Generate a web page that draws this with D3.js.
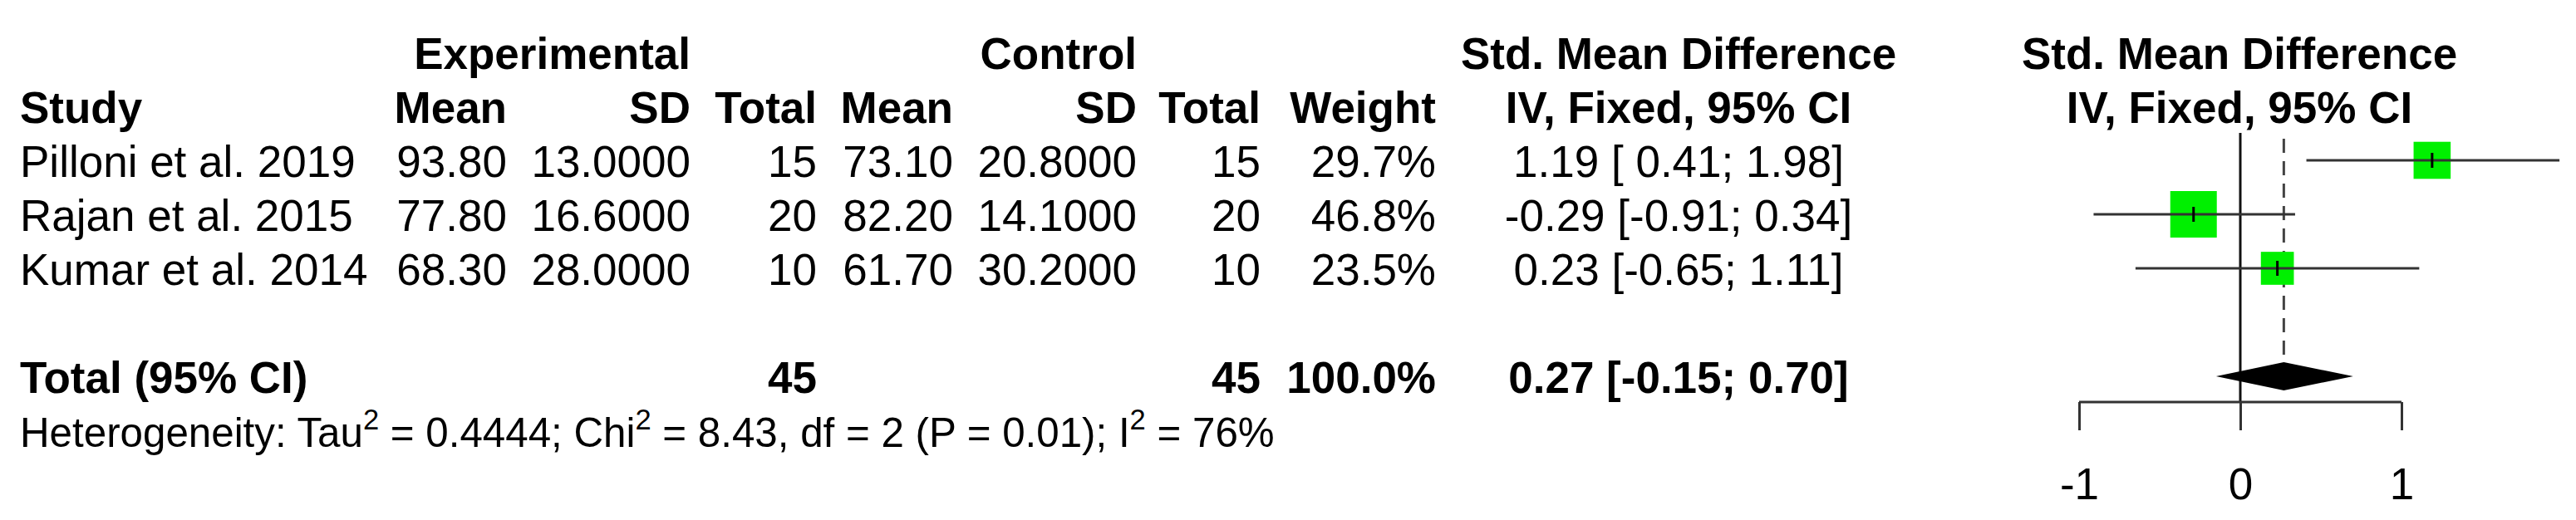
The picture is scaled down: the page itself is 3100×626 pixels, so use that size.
<!DOCTYPE html>
<html>
<head>
<meta charset="utf-8">
<script src="https://cdn.jsdelivr.net/npm/d3@7"></script>
<style>
  html, body { margin: 0; padding: 0; background: #fff; }
  svg { display: block; }
  text { font-family: "Liberation Sans", Arial, Helvetica, sans-serif; fill: #000; white-space: pre; }
</style>
</head>
<body>
<svg id="chart" width="3100" height="626"></svg>
<script>
// ---- data ----
const studies   = ["Pilloni et al. 2019", "Rajan et al. 2015", "Kumar et al. 2014"];
const expMean   = [93.80, 77.80, 68.30];
const expSD     = [13.0000, 16.6000, 28.0000];
const expN      = [15, 20, 10];
const ctrlMean  = [73.10, 82.20, 61.70];
const ctrlSD    = [20.8000, 14.1000, 30.2000];
const ctrlN     = [15, 20, 10];
const weights   = [29.7, 46.8, 23.5];
const smd       = [1.19, -0.29, 0.23];
const ciLow     = [0.41, -0.91, -0.65];
const ciHigh    = [1.98, 0.34, 1.11];
const totalLabel = "Total (95% CI)";
const totalExpN  = 45;
const totalCtrlN = 45;
const totalWeight = 100.0;
const totalSMD   = 0.27;
const totalLow   = -0.15;
const totalHigh  = 0.70;
const tickValues = [-1, 0, 1];
const hetParts = [
  ["Heterogeneity: Tau", false], ["2", true], [" = 0.4444; Chi", false], ["2", true],
  [" = 8.43, df = 2 (P = 0.01); I", false], ["2", true], [" = 76%", false]
];

// ---- layout ----
const svg = d3.select("#chart");
const FS = 53, FS_HET = 49.3;
const row = d3.scaleLinear().domain([0, 1]).range([213, 278]); // baseline of row index
const x = d3.scaleLinear().domain([-1, 1]).range([2502, 2890]);
const boxSize = d3.scaleSqrt().domain([0, d3.max(weights)]).range([0, 56]);

const cols = {
  study: 24, eMean: 610, eSD: 831, eN: 983, cMean: 1147, cSD: 1368, cN: 1517, w: 1728, ci: 2020, plot: 2695
};

function txt(xp, yp, s, anchor, bold, size) {
  return svg.append("text")
    .attr("x", xp).attr("y", yp)
    .attr("text-anchor", anchor || "start")
    .attr("font-weight", bold ? "bold" : "normal")
    .attr("font-size", size || FS)
    .text(s);
}
const f2 = v => v.toFixed(2);

// headers
txt(cols.eSD, row(-2), "Experimental", "end", true);
txt(cols.cSD, row(-2), "Control", "end", true);
txt(cols.ci, row(-2), "Std. Mean Difference", "middle", true);
txt(cols.plot, row(-2), "Std. Mean Difference", "middle", true);
txt(cols.study, row(-1), "Study", "start", true);
txt(cols.eMean, row(-1), "Mean", "end", true);
txt(cols.eSD, row(-1), "SD", "end", true);
txt(cols.eN, row(-1), "Total", "end", true);
txt(cols.cMean, row(-1), "Mean", "end", true);
txt(cols.cSD, row(-1), "SD", "end", true);
txt(cols.cN, row(-1), "Total", "end", true);
txt(cols.w, row(-1), "Weight", "end", true);
txt(cols.ci, row(-1), "IV, Fixed, 95% CI", "middle", true);
txt(cols.plot, row(-1), "IV, Fixed, 95% CI", "middle", true);

// study rows
studies.forEach((s, i) => {
  const y = row(i);
  txt(cols.study, y, s);
  txt(cols.eMean, y, f2(expMean[i]), "end");
  txt(cols.eSD, y, expSD[i].toFixed(4), "end");
  txt(cols.eN, y, String(expN[i]), "end");
  txt(cols.cMean, y, f2(ctrlMean[i]), "end");
  txt(cols.cSD, y, ctrlSD[i].toFixed(4), "end");
  txt(cols.cN, y, String(ctrlN[i]), "end");
  txt(cols.w, y, weights[i].toFixed(1) + "%", "end");
  txt(cols.ci, y, `${f2(smd[i])} [${ciLow[i] < 0 ? "" : " "}${f2(ciLow[i])}; ${f2(ciHigh[i])}]`, "middle");
});

// total row
const ty = row(4);
txt(cols.study, ty, totalLabel, "start", true);
txt(cols.eN, ty, String(totalExpN), "end", true);
txt(cols.cN, ty, String(totalCtrlN), "end", true);
txt(cols.w, ty, totalWeight.toFixed(1) + "%", "end", true);
txt(cols.ci, ty, `${f2(totalSMD)} [${f2(totalLow)}; ${f2(totalHigh)}]`, "middle", true);

// heterogeneity
const het = svg.append("text").attr("x", cols.study).attr("y", row(5)).attr("font-size", FS_HET);
hetParts.forEach(([s, sup], k) => {
  const t = het.append("tspan").text(s);
  if (sup) {
    t.attr("font-size", FS_HET * 0.7).attr("dy", -FS_HET * 0.42);
  } else if (k > 0) {
    t.attr("dy", FS_HET * 0.42);
  }
});

// ---- forest plot ----
const mid = -20; // offset from text baseline to row centre
const g = svg.append("g");
const axisY = 484;

// zero line
g.append("line")
  .attr("x1", x(0)).attr("x2", x(0))
  .attr("y1", 160).attr("y2", axisY)
  .attr("stroke", "#111").attr("stroke-width", 3);

// dashed line at total estimate
const dh = 17;
g.append("line")
  .attr("x1", x(totalSMD)).attr("x2", x(totalSMD))
  .attr("y1", 167).attr("y2", ty + mid - dh)
  .attr("stroke", "#444").attr("stroke-width", 3)
  .attr("stroke-dasharray", "17,10");

// boxes
studies.forEach((s, i) => {
  const cy = row(i) + mid, sz = boxSize(weights[i]);
  g.append("rect")
    .attr("x", x(smd[i]) - sz / 2).attr("y", cy - sz / 2)
    .attr("width", sz).attr("height", sz)
    .attr("fill", "#00f000");
});
// CI lines
studies.forEach((s, i) => {
  const cy = row(i) + mid;
  g.append("line")
    .attr("x1", x(ciLow[i])).attr("x2", x(ciHigh[i]))
    .attr("y1", cy).attr("y2", cy)
    .attr("stroke", "#333").attr("stroke-width", 3);
  g.append("line")
    .attr("x1", x(smd[i])).attr("x2", x(smd[i]))
    .attr("y1", cy - 9).attr("y2", cy + 9)
    .attr("stroke", "#000").attr("stroke-width", 3);
});

// diamond
const dcy = ty + mid;
g.append("path")
  .attr("d", `M${x(totalLow)},${dcy} L${x(totalSMD)},${dcy - dh} L${x(totalHigh)},${dcy} L${x(totalSMD)},${dcy + dh} Z`)
  .attr("fill", "#000");

// axis
const axis = d3.axisBottom(x)
  .tickValues(tickValues)
  .tickFormat(d => String(d))
  .tickSize(34)
  .tickSizeOuter(0)
  .tickPadding(45);
const ag = svg.append("g").attr("transform", `translate(0,${axisY})`).call(axis);
ag.attr("font-size", FS).attr("font-family", "'Liberation Sans', Arial, sans-serif");
ag.select(".domain").attr("stroke", "#333").attr("stroke-width", 3)
  .attr("d", `M${x(-1)},0H${x(1)}`);
ag.selectAll(".tick line").attr("stroke", "#333").attr("stroke-width", 3);
ag.selectAll(".tick text").attr("fill", "#000");
</script>
</body>
</html>
